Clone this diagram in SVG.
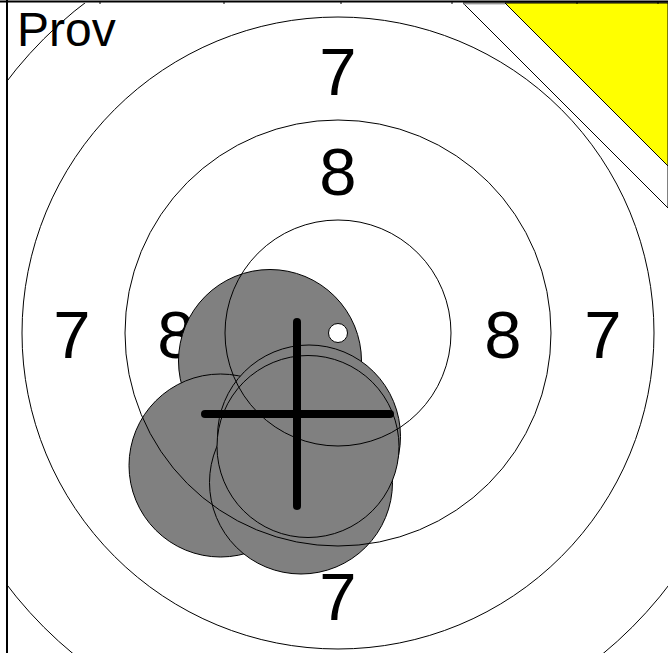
<svg xmlns="http://www.w3.org/2000/svg" width="668" height="653" viewBox="0 0 668 653">
<style>
.ring{fill:none;stroke:#000;stroke-width:1}
.num{font-family:"Liberation Sans",Arial,sans-serif;font-size:67px;fill:#000;text-anchor:middle}
.shot{fill:#808080;stroke:#000;stroke-width:1}
.cross{stroke:#000;stroke-width:8;stroke-linecap:round}
</style>
<defs>
<clipPath id="area"><rect x="8" y="3" width="660" height="650"/></clipPath>
</defs>
<rect x="0" y="0" width="668" height="653" fill="#fff"/>
<g id="labels">
<text class="num" x="338" y="95">7</text>
<text class="num" x="338" y="195">8</text>
<text class="num" x="72" y="358">7</text>
<text class="num" x="176" y="358">8</text>
<text class="num" x="503" y="358">8</text>
<text class="num" x="603" y="358">7</text>
<text class="num" x="338" y="620">7</text>
</g>
<g id="shots">
<circle id="shot1" class="shot" cx="270" cy="361" r="91.5"/>
<circle id="shot2" class="shot" cx="220.5" cy="465.5" r="91.5"/>
<circle id="shot3" class="shot" cx="301" cy="482.5" r="91.5"/>
<circle id="shot4" class="shot" cx="309" cy="436.5" r="91.5"/>
<circle id="shot5" class="shot" cx="308" cy="446.5" r="91"/>
</g>
<g id="rings" clip-path="url(#area)">
<circle id="ring6" class="ring" cx="338" cy="333" r="416"/>
<circle id="ring7" class="ring" cx="338" cy="333" r="316"/>
<circle id="ring8" class="ring" cx="338" cy="333" r="213"/>
<circle id="ring9" class="ring" cx="338" cy="333" r="113"/>
</g>
<g id="center-dot">
<circle cx="338" cy="333" r="9.5" fill="#fff" stroke="#000" stroke-width="1"/>
</g>
<g id="crosshair">
<line class="cross" x1="297" y1="322" x2="297" y2="506"/>
<line class="cross" x1="205" y1="414" x2="390" y2="414"/>
</g>
<g id="corner">
<polygon points="463,3 668,3 668,208" fill="#fff" stroke="#000" stroke-width="1"/>
<polygon points="505,3 668,3 668,166" fill="#ffff00" stroke="#000" stroke-width="1"/>
<line x1="463" y1="4" x2="505" y2="4" stroke="#aaa" stroke-width="1"/>
</g>
<g id="prov">
<text x="17" y="46" font-family="Liberation Sans, Arial, sans-serif" font-size="48" fill="#000">Prov</text>
</g>
<g id="frame">
<line x1="0" y1="1.5" x2="668" y2="1.5" stroke="#000" stroke-width="2"/>
<line x1="7" y1="0" x2="7" y2="653" stroke="#000" stroke-width="2"/>
<path d="M100 1V4M224 1V4M341 1V4M452 1V4M577 1V4M658 1V4" stroke="#000" stroke-width="1"/>
</g>
</svg>
